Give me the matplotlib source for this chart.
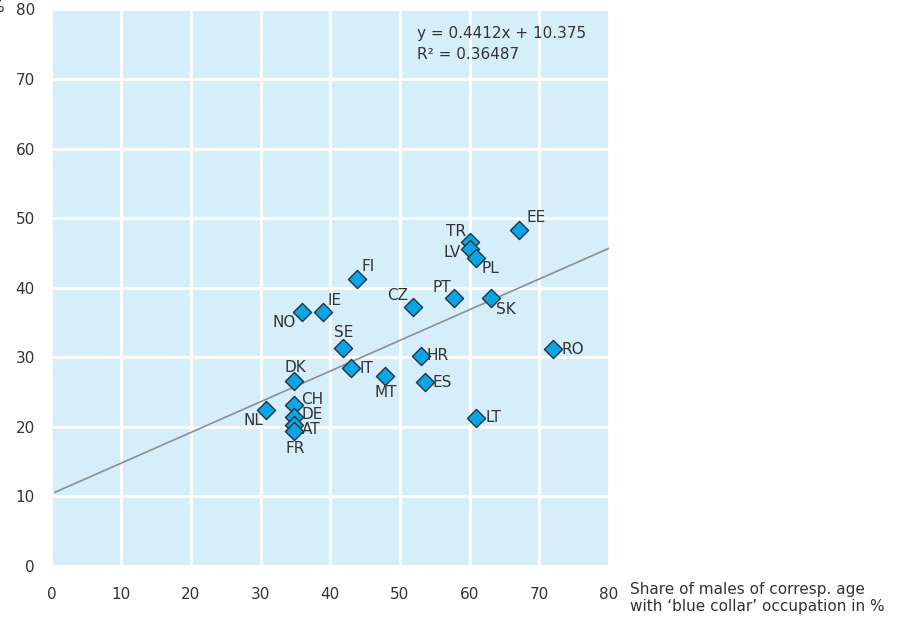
import matplotlib
matplotlib.use("Agg")
import matplotlib.pyplot as plt
import numpy as np

plt.rcParams["font.family"] = ["DejaVu Sans"]

countries = ["FI", "IE", "NO", "CZ", "SE", "IT", "MT", "DK", "CH", "NL",
             "DE", "AT", "FR", "HR", "ES", "LT", "EE", "TR", "LV", "PL",
             "PT", "SK", "RO"]
blue_collar = [43.8, 38.9, 36.0, 51.9, 41.9, 43.0, 47.8, 34.8, 34.8, 30.8,
               34.8, 34.8, 34.8, 53.0, 53.6, 60.9, 67.1, 60.0, 60.0, 60.9,
               57.8, 63.0, 71.9]
share = [41.3, 36.5, 36.5, 37.2, 31.3, 28.4, 27.3, 26.6, 23.2, 22.4,
         21.4, 20.3, 19.4, 30.2, 26.4, 21.3, 48.3, 46.6, 45.5, 44.3,
         38.5, 38.5, 31.2]

slope = 0.4412
intercept = 10.375
r2 = 0.36487

# label offsets in pixels (dx, dy)
offsets = {
    "FI": (11, 12), "IE": (12, 12), "NO": (-18, -10), "CZ": (-16, 12),
    "SE": (0, 16), "IT": (15, 0), "MT": (1, -16), "DK": (1, 13),
    "CH": (18, 5), "NL": (-13, -10), "DE": (18, 3), "AT": (17, -5),
    "FR": (1, -17), "HR": (17, 0), "ES": (17, 0), "LT": (17, 0),
    "EE": (17, 13), "TR": (-14, 10), "LV": (-17, -3), "PL": (14, -11),
    "PT": (-12, 11), "SK": (15, -11), "RO": (20, -1),
}

text_col = "#333333"
fs = 11

fig = plt.figure(figsize=(9.03, 6.2), dpi=100)
ax = fig.add_axes([0.057, 0.0871, 0.6174, 0.8976])
ax.set_facecolor("#d6edfa")

ax.set_xlim(0, 80)
ax.set_ylim(0, 80)
ax.set_xticks(np.arange(0, 81, 10))
ax.set_yticks(np.arange(0, 81, 10))
ax.grid(True, color="white", linewidth=2)
ax.set_axisbelow(True)
for s in ax.spines.values():
    s.set_visible(False)
ax.tick_params(length=0, labelsize=fs, labelcolor=text_col)
ax.tick_params(axis="y", pad=12)
ax.tick_params(axis="x", pad=15)

xs = np.array([0.5, 80])
ax.plot(xs, slope * xs + intercept, color="#8f8f8f", linewidth=1.2, zorder=2)

ax.scatter(blue_collar, share, marker="D", s=85, color="#0aa5e6",
           edgecolor="#1f3440", linewidth=1, zorder=3)

for c, x, y in zip(countries, blue_collar, share):
    dx, dy = offsets[c]
    ax.annotate(c, (x, y), xytext=(dx, dy), textcoords="offset pixels",
                ha="center", va="center", fontsize=fs, color=text_col, zorder=4)

ax.text(52.4, 76.6, f"y = {slope}x + {intercept}", fontsize=fs,
        color=text_col, va="center")
ax.text(52.4, 73.6, f"R² = {r2}", fontsize=fs, color=text_col, va="center")

fig.text(4 / 903, 1 - 8 / 620, "%", ha="right", va="center",
         fontsize=fs, color=text_col)
fig.text(630 / 903, 1 - 582 / 620,
         "Share of males of corresp. age\nwith \u2018blue collar\u2019 occupation in %",
         ha="left", va="top", fontsize=fs, color=text_col, linespacing=1.2)

fig.savefig("out.png", dpi=100)
